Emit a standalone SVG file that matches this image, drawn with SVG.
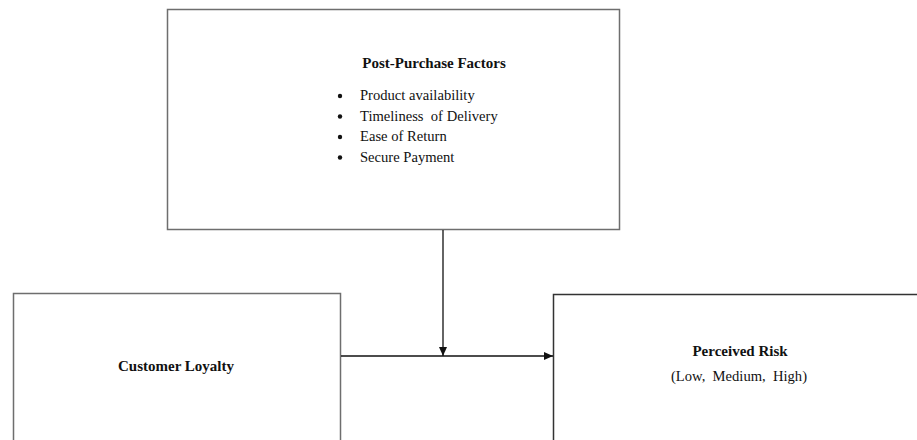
<svg xmlns="http://www.w3.org/2000/svg" width="917" height="440" viewBox="0 0 917 440">
<style>
.box{fill:#fff;stroke:#6e6e6e;stroke-width:1.5}
.t{font-family:"Liberation Serif","Times New Roman",serif;fill:#111;font-size:15px}
.s{font-size:14.6px}
.b{font-weight:bold}
.c{stroke:#111;stroke-width:1.3;fill:none}
</style>
<defs>
<marker id="ah" markerWidth="10" markerHeight="8" refX="9" refY="4" orient="auto" markerUnits="userSpaceOnUse">
<path d="M0,0 L9,4 L0,8 Z" fill="#111"/>
</marker>
</defs>
<rect width="917" height="440" fill="#fff"/>
<g id="post-purchase">
<rect class="box" x="167.5" y="9.5" width="452" height="220"/>
<text class="t b" x="434" y="68" text-anchor="middle">Post-Purchase Factors</text>
<g class="t s">
<circle cx="340" cy="96" r="2.2" fill="#111"/>
<text x="360" y="100">Product availability</text>
<circle cx="340" cy="116.5" r="2.2" fill="#111"/>
<text x="360" y="120.5" style="white-space:pre">Timeliness  of Delivery</text>
<circle cx="340" cy="137" r="2.2" fill="#111"/>
<text x="360" y="141">Ease of Return</text>
<circle cx="340" cy="157.5" r="2.2" fill="#111"/>
<text x="360" y="161.5">Secure Payment</text>
</g>
</g>
<g id="customer-loyalty">
<rect class="box" x="13.5" y="293.5" width="327" height="150"/>
<text class="t b" x="176" y="371" text-anchor="middle">Customer Loyalty</text>
</g>
<g id="perceived-risk">
<rect class="box" x="553.5" y="294.5" width="370" height="150" style="stroke:#333"/>
<text class="t b" x="740" y="356" text-anchor="middle">Perceived Risk</text>
<text class="t s" x="739" y="381" text-anchor="middle" style="white-space:pre">(Low,  Medium,  High)</text>
</g>
<g id="connectors">
<line class="c" x1="443" y1="230" x2="443" y2="356" marker-end="url(#ah)"/>
<line class="c" x1="341" y1="356" x2="553" y2="356" marker-end="url(#ah)"/>
</g>
</svg>
